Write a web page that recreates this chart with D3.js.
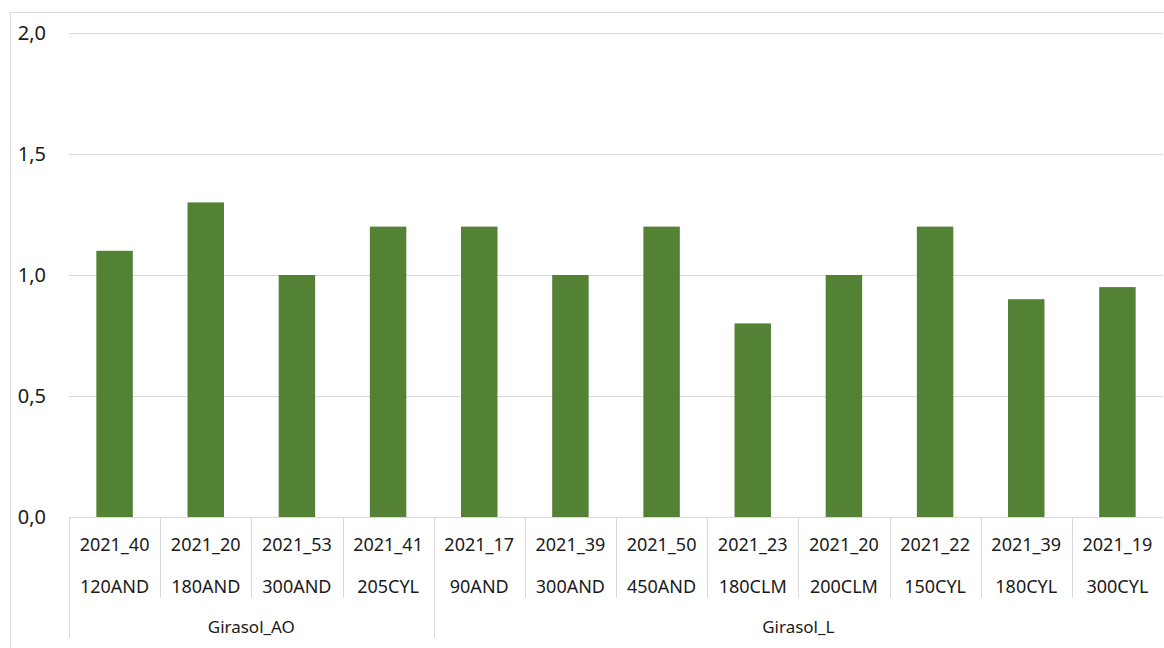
<!DOCTYPE html>
<html>
<head>
<meta charset="utf-8">
<script src="https://cdn.jsdelivr.net/npm/d3@7.9.0/dist/d3.min.js"></script>
<style>
  body { margin: 0; background: #fff; }
  svg text { font-family: "Noto Sans", "Open Sans", sans-serif; fill: #1a1a1a; }
</style>
</head>
<body>
<svg id="chart" width="1164" height="648"></svg>
<script>
// data
const codes = ['2021_40', '2021_20', '2021_53', '2021_41', '2021_17', '2021_39', '2021_50', '2021_23', '2021_20', '2021_22', '2021_39', '2021_19'];
const sites = ['120AND', '180AND', '300AND', '205CYL', '90AND', '300AND', '450AND', '180CLM', '200CLM', '150CYL', '180CYL', '300CYL'];
const groups = ['Girasol_AO', 'Girasol_AO', 'Girasol_AO', 'Girasol_AO', 'Girasol_L', 'Girasol_L', 'Girasol_L', 'Girasol_L', 'Girasol_L', 'Girasol_L', 'Girasol_L', 'Girasol_L'];
const values = [1.1, 1.3, 1.0, 1.2, 1.2, 1.0, 1.2, 0.8, 1.0, 1.2, 0.9, 0.95];
const yTicks = [0, 0.5, 1.0, 1.5, 2.0];

const svg = d3.select('#chart');
const plotLeft = 69, plotRight = 1163, plotTop = 33, plotBottom = 517;
const fontSize = 18;

// outer chart frame (cropped at right and bottom)
svg.append('rect')
  .attr('x', 10.5).attr('y', 12.5)
  .attr('width', 1170).attr('height', 660)
  .attr('fill', 'none').attr('stroke', '#d9d9d9');

const idx = d3.range(values.length);
const x = d3.scaleBand().domain(idx).range([plotLeft, plotRight]).paddingInner(0.6).paddingOuter(0.3);
const y = d3.scaleLinear().domain([0, 2]).range([plotBottom, plotTop]);
const fmt = v => d3.format('.1f')(v).replace('.', ',');

// gridlines
svg.append('g')
  .selectAll('line')
  .data(yTicks)
  .join('line')
  .attr('x1', plotLeft).attr('x2', plotRight)
  .attr('y1', d => Math.round(y(d)) + 0.5).attr('y2', d => Math.round(y(d)) + 0.5)
  .attr('stroke', '#d9d9d9').attr('stroke-width', 1);

// y labels
svg.append('g')
  .selectAll('text')
  .data(yTicks)
  .join('text')
  .attr('x', 46).attr('y', d => y(d))
  .attr('dy', '0.35em')
  .attr('text-anchor', 'end')
  .attr('font-size', 20)
  .text(fmt);

// bars
svg.append('g')
  .selectAll('rect')
  .data(values)
  .join('rect')
  .attr('x', (d, i) => x(i))
  .attr('width', x.bandwidth())
  .attr('y', d => y(d))
  .attr('height', d => y(0) - y(d))
  .attr('fill', '#548235');

// multi-level category axis
const step = (plotRight - plotLeft) / values.length;
const axis = svg.append('g');
const sepColor = '#d9d9d9';

// category separators (short), right end is cut off in the reference
axis.selectAll('line.cat')
  .data(d3.range(1, values.length).filter(i => groups[i] === groups[i - 1]))
  .join('line')
  .attr('class', 'cat')
  .attr('x1', i => Math.round(plotLeft + i * step) + 0.5)
  .attr('x2', i => Math.round(plotLeft + i * step) + 0.5)
  .attr('y1', plotBottom).attr('y2', 598)
  .attr('stroke', sepColor);

// group separators (long)
const groupNames = Array.from(new Set(groups));
const groupBounds = groupNames.map(g => {
  const first = groups.indexOf(g);
  const last = groups.lastIndexOf(g);
  return { name: g, start: first, end: last + 1 };
});
const groupEdges = [0, ...groupBounds.map(g => g.end)].filter(i => i < values.length);
axis.selectAll('line.grp')
  .data(groupEdges)
  .join('line')
  .attr('class', 'grp')
  .attr('x1', i => Math.round(plotLeft + i * step) + 0.5)
  .attr('x2', i => Math.round(plotLeft + i * step) + 0.5)
  .attr('y1', plotBottom).attr('y2', 638)
  .attr('stroke', sepColor);

axis.selectAll('text.code')
  .data(codes)
  .join('text')
  .attr('class', 'code')
  .attr('x', (d, i) => x(i) + x.bandwidth() / 2)
  .attr('y', 545).attr('dy', '0.35em')
  .attr('text-anchor', 'middle')
  .attr('font-size', fontSize)
  .text(d => d);

axis.selectAll('text.site')
  .data(sites)
  .join('text')
  .attr('class', 'site')
  .attr('x', (d, i) => x(i) + x.bandwidth() / 2)
  .attr('y', 587).attr('dy', '0.35em')
  .attr('text-anchor', 'middle')
  .attr('font-size', fontSize)
  .text(d => d);

axis.selectAll('text.group')
  .data(groupBounds)
  .join('text')
  .attr('class', 'group')
  .attr('x', g => plotLeft + (g.start + g.end) / 2 * step)
  .attr('y', 627).attr('dy', '0.35em')
  .attr('text-anchor', 'middle')
  .attr('font-size', 17)
  .text(g => g.name);
</script>
</body>
</html>
